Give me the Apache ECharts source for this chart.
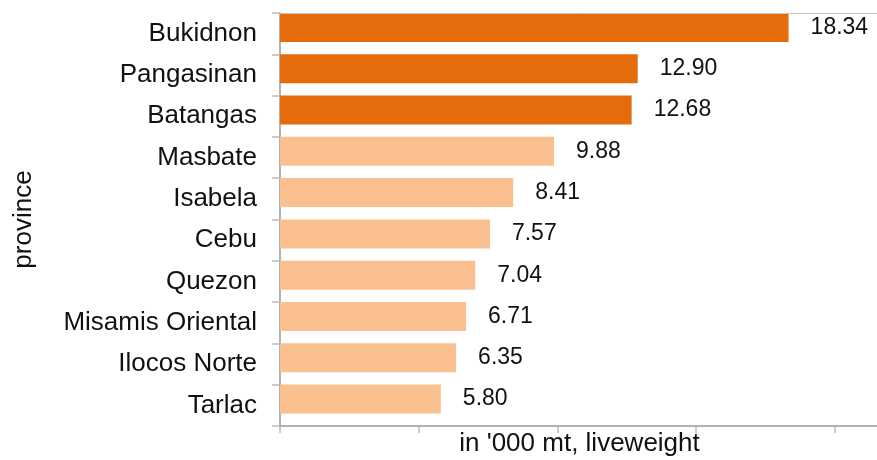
<!DOCTYPE html>
<html>
<head>
<meta charset="utf-8">
<script src="https://cdn.jsdelivr.net/npm/echarts@6/dist/echarts.min.js"></script>
<style>
	html, body { margin: 0; padding: 0; background: #fff; }
	#chart { width: 877px; height: 460px; }
</style>
</head>
<body>
<div id="chart"></div>
<script>
// 数据
const provinces = ["Bukidnon", "Pangasinan", "Batangas", "Masbate", "Isabela", "Cebu", "Quezon", "Misamis Oriental", "Ilocos Norte", "Tarlac"];
const volumes = [18.34, 12.90, 12.68, 9.88, 8.41, 7.57, 7.04, 6.71, 6.35, 5.80];
const topCount = 3; // 前三名深色

(function () {
	let myChart = echarts.init(document.getElementById('chart'))
	const font = '"Liberation Sans", Arial, sans-serif'
	const option = {
		animation: false,
		grid: {
			left: 280,
			right: -2,
			top: 13,
			bottom: 34,
			outerBoundsMode: 'none'
		},
		xAxis: [
			{
				type: 'value',
				min: 0,
				max: 21.6,
				interval: 5,
				name: "in '000 mt, liveweight",
				nameLocation: 'middle',
				nameGap: 5,
				nameTextStyle: { color: '#111', fontSize: 26, fontFamily: font },
				axisLine: { show: true, lineStyle: { color: '#999', width: 1.5 } },
				axisTick: { show: true, length: 7, lineStyle: { color: '#bbb', width: 1.5 } },
				axisLabel: { show: false },
				splitLine: { show: false }
			},
			{
				// 顶部的细线
				type: 'value',
				position: 'top',
				min: 0,
				max: 21.6,
				z: 5,
				axisLine: { show: true, lineStyle: { color: '#c4c4c4', width: 1 } },
				axisTick: { show: false },
				axisLabel: { show: false },
				splitLine: { show: false }
			}
		],
		yAxis: {
			type: 'category',
			inverse: true,
			data: provinces,
			name: 'province',
			nameLocation: 'middle',
			nameRotate: 90,
			nameGap: 243,
			nameTextStyle: { color: '#111', fontSize: 26, fontFamily: font },
			axisLine: { show: true, lineStyle: { color: '#999', width: 1.5 } },
			axisTick: { show: true, length: 8, lineStyle: { color: '#bbb', width: 1.5 } },
			axisLabel: { color: '#111', fontSize: 26, fontFamily: font, margin: 23 }
		},
		series: [
			{
				type: 'bar',
				data: volumes,
				barWidth: 29,
				barGap: 0,
				itemStyle: {
					color: function (params) {
						return params.dataIndex < topCount ? '#e46c0a' : '#fac090'
					}
				},
				label: {
					show: true,
					position: 'right',
					distance: 22,
					color: '#111',
					fontSize: 23,
					fontFamily: font,
					formatter: function (p) { return p.value.toFixed(2) }
				}
			},
			{
				// 占位，让柱子靠上
				type: 'bar',
				data: volumes.map(function () { return 0 }),
				barWidth: 12.5,
				silent: true,
				itemStyle: { color: 'transparent' }
			}
		]
	}
	myChart.setOption(option)
})();
</script>
</body>
</html>
